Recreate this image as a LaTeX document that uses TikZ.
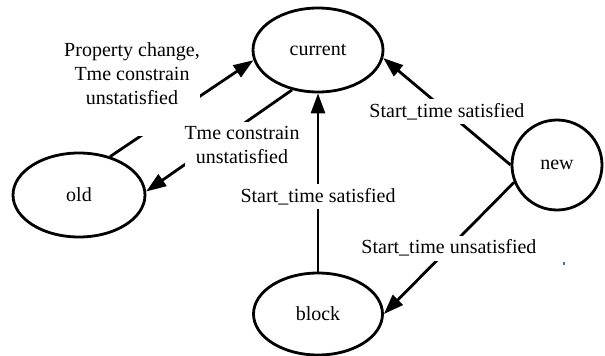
\documentclass[tikz,border=0pt]{standalone}
\usepackage{fontspec}
\setmainfont{Liberation Serif}
\usetikzlibrary{shapes.geometric}
\usetikzlibrary{positioning}
\usetikzlibrary{arrows.meta}
\definecolor{dotblue}{HTML}{4472C4}

\begin{document}
\begin{tikzpicture}[x=1pt,y=-1pt,>={Triangle[length=20pt,width=14pt]},line width=2.8pt,
	node distance=264pt,font=\fontsize{20}{24}\selectfont,
	state node/.style={ellipse,draw,minimum width=130pt,minimum height=84pt},
	label node/.style={fill=white,align=center,inner xsep=0pt,inner ysep=4pt}]
	
	\useasboundingbox (0,0) rectangle (605,356);
	
	\node[state node,minimum width=132pt] (old) at (79,195) {old};
	\node[state node] (current) at (318,50) {current};
	\node[state node,minimum width=129pt,minimum height=82pt] (block) [below of=current] {block};
	\node[state node,circle,minimum size=90pt] (new) at (557,165) {new};
	
	\path[->]
	(old.51) edge (current.189)
	(current.237) edge (old.3)
	(block.north) edge node [label node,pos=0.42] (sat1) {Start\_time satisfied} (current.south)
	(new.180) edge node [label node] (sat2) {Start\_time satisfied} (current.-7)
	(new.202) edge node [label node] (unsat) {Start\_time unsatisfied} (block.east);
	
	\node[label node,minimum height=124pt] (change) at (132,74) {Property change,\\Tme constrain\\unstatisfied};
	\node[label node] (constrain) at (242,145) {Tme constrain\\unstatisfied};
	
	\fill[dotblue] (563,262) rectangle (565,265);
\end{tikzpicture}
\end{document}
